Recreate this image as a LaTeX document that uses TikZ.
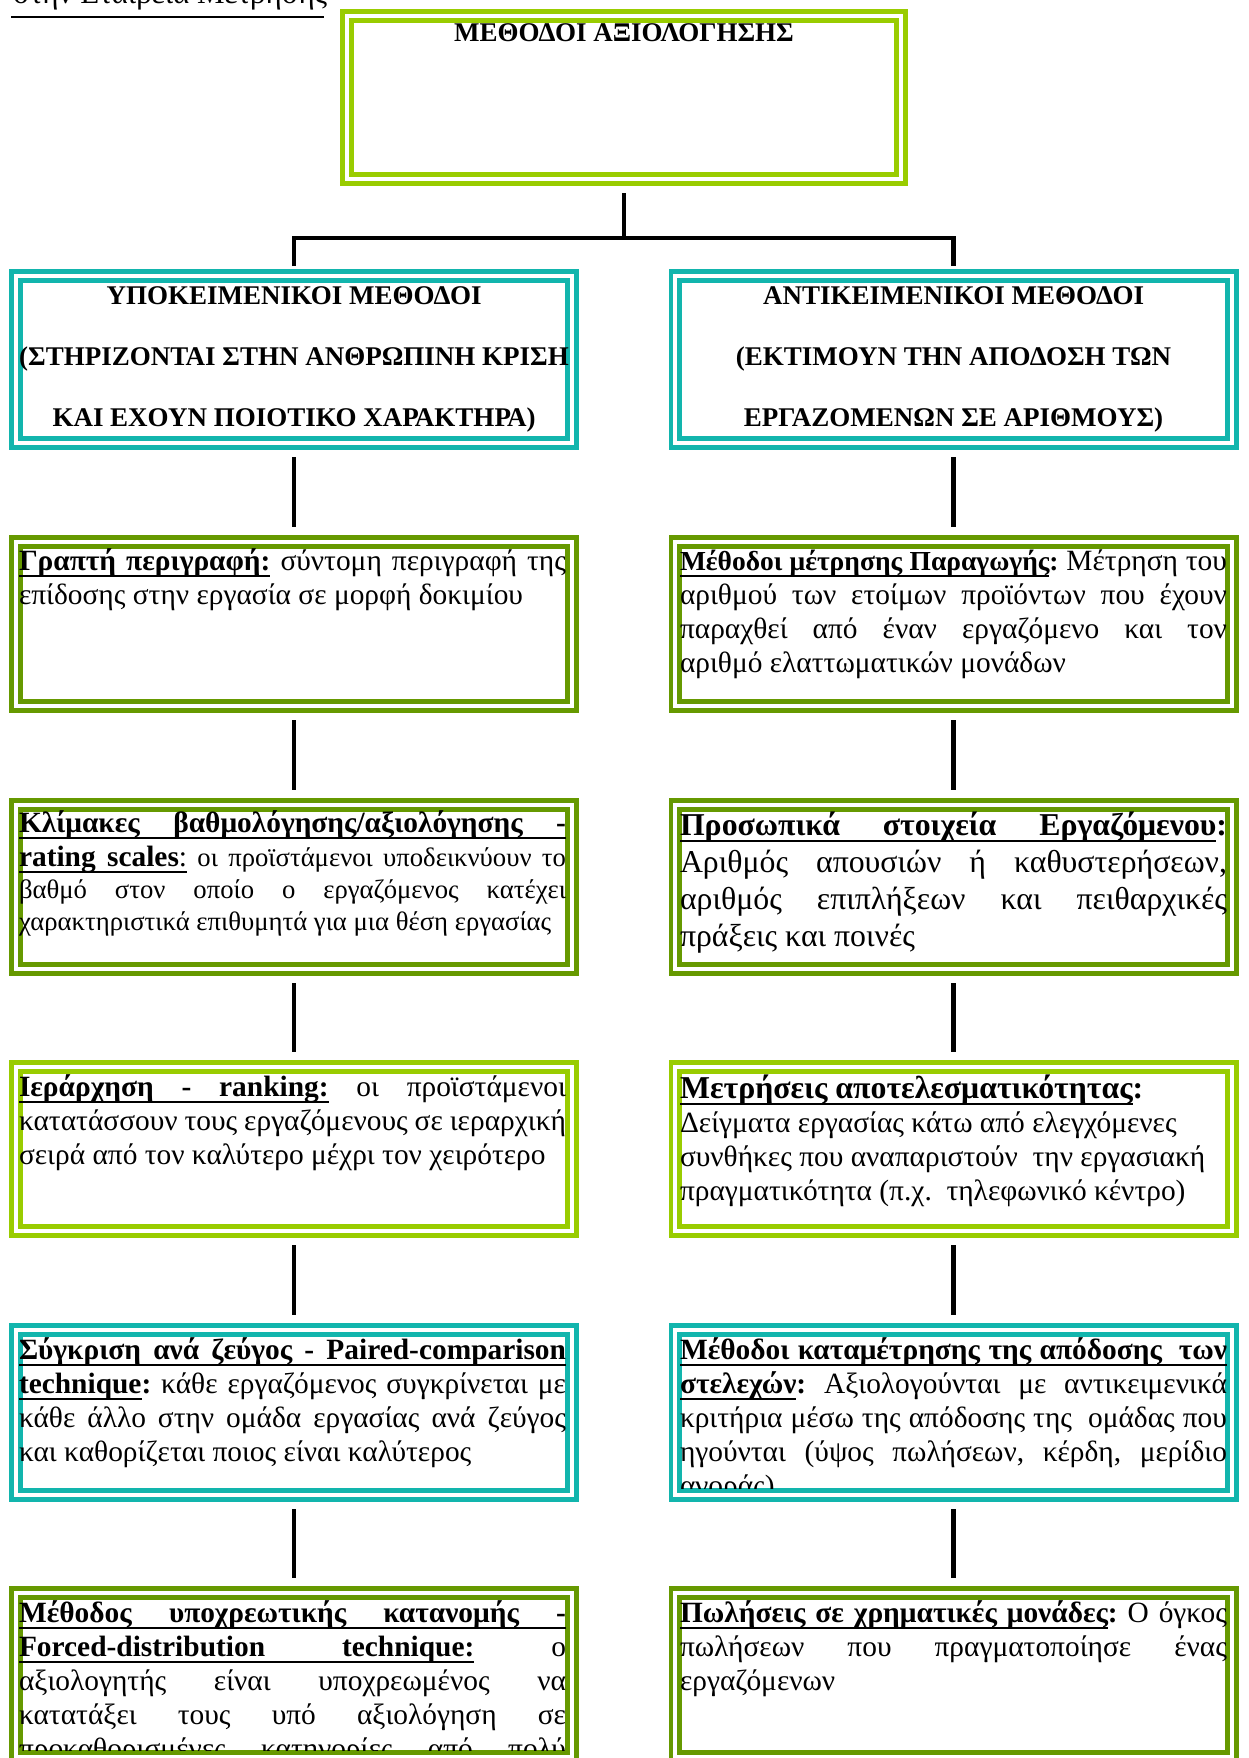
\documentclass[tikz,border=0pt]{standalone}
\usepackage{fontspec}
\setmainfont{Liberation Serif}
\frenchspacing

\definecolor{frameLime}{RGB}{153,204,0}
\definecolor{frameOlive}{RGB}{102,153,0}
\definecolor{frameTeal}{RGB}{18,181,173}

% underline helpers: a word with a fixed-depth rule, and an underlined stretchable space
\newlength\ulpos \setlength\ulpos{6.5pt}
\newlength\ulthk \setlength\ulthk{2pt}
\newcommand\uw[1]{\setbox0=\hbox{#1}\rlap{\rule[-\ulpos]{\wd0}{\ulthk}}\box0}
\newcommand\us{\leaders\hrule height\dimexpr\ulthk-\ulpos\relax depth\ulpos\hskip\fontdimen2\font plus\fontdimen3\font minus\fontdimen4\font\relax}
% natural (stretchable) word spaces inside nodes
\newcommand\natsp{\spaceskip=0pt\xspaceskip=0pt\relax}
% the font's own word space, kept rigid (for centred titles)
\newcommand\fixsp{\spaceskip=\fontdimen2\font\relax\xspaceskip=\spaceskip}
% a fully justified line
\newcommand\jl[1]{\makebox[\linewidth][s]{\natsp#1}}

\begin{document}
\begin{tikzpicture}[x=1pt,y=-1pt,
  frame/.style={rectangle, draw=#1, double=white, double distance=4pt,
    line width=4.8pt, inner sep=0pt, outer sep=6.8pt,
    minimum width=556.4pt, minimum height=164.4pt},
  conn/.style={line width=4.6pt, black},
  body/.style={anchor=base west, inner sep=0pt, outer sep=0pt,
    text width=547pt, align=left, font=\fontsize{29.4}{34}\selectfont},
  head/.style={anchor=base, inner sep=0pt, outer sep=0pt,
    text width=560pt, align=center, font=\fontsize{27}{61}\selectfont\bfseries}]

\useasboundingbox (0,0) rectangle (1248,1758);
\clip (0,0) rectangle (1248,1758);

% running text above the chart
\node[anchor=base west, inner sep=0pt, font=\fontsize{31}{36}\selectfont] (prev) at (13,4) {στην Εταιρεία Μετρήσης};
\draw[line width=2pt] (11,17) -- (324,17);

% frames
\node[frame=frameLime, minimum width=554.4pt, minimum height=163.4pt] (top) at (624,97.5) {};
\node[frame=frameTeal, minimum height=167.4pt] (h1) at (294,359.5) {};
\node[frame=frameTeal, minimum height=167.4pt] (h2) at (953.5,359.5) {};
\node[frame=frameOlive] (l2) at (294,624) {};
\node[frame=frameOlive] (r2) at (953.5,624) {};
\node[frame=frameOlive] (l3) at (294,887) {};
\node[frame=frameOlive] (r3) at (953.5,887) {};
\node[frame=frameLime] (l4) at (294,1149) {};
\node[frame=frameLime] (r4) at (953.5,1149) {};
\node[frame=frameTeal, minimum height=165.4pt] (l5) at (294,1412.5) {};
\node[frame=frameTeal, minimum height=165.4pt] (r5) at (953.5,1412.5) {};
\node[frame=frameOlive] (l6) at (294,1675) {};
\node[frame=frameOlive] (r6) at (953.5,1675) {};

% connectors
\coordinate (fork) at (624,238);
\draw[conn, shorten <=7pt] (top.south) -- (fork);
\draw[conn, shorten <=3pt, shorten >=3pt] (h1.north) -- (fork -| h1.north) -- (fork -| h2.north) -- (h2.north);
\foreach \a/\b in {h1/l2,l2/l3,l3/l4,l4/l5,l5/l6,h2/r2,r2/r3,r3/r4,r4/r5,r5/r6}
  \draw[conn, shorten <=7pt, shorten >=8pt] (\a.south) -- (\b.north);

% titles
\node[head] (ttop) at (624,42) {\fixsp ΜΕΘΟΔΟΙ ΑΞΙΟΛΟΓΗΣΗΣ};
\node[head] (th1) at (294,304) {\fixsp ΥΠΟΚΕΙΜΕΝΙΚΟΙ ΜΕΘΟΔΟΙ\\(ΣΤΗΡΙΖΟΝΤΑΙ ΣΤΗΝ ΑΝΘΡΩΠΙΝΗ ΚΡΙΣΗ\\ΚΑΙ ΕΧΟΥΝ ΠΟΙΟΤΙΚΟ ΧΑΡΑΚΤΗΡΑ)};
\node[head] (th2) at (953.5,304) {\fixsp ΑΝΤΙΚΕΙΜΕΝΙΚΟΙ ΜΕΘΟΔΟΙ\\(ΕΚΤΙΜΟΥΝ ΤΗΝ ΑΠΟΔΟΣΗ ΤΩΝ\\ΕΡΓΑΖΟΜΕΝΩΝ ΣΕ ΑΡΙΘΜΟΥΣ)};

% left column texts
\node[body] (tl2) at (19,570) {\natsp\jl{\textbf{\uw{Γραπτή}\us\uw{περιγραφή:}} σύντομη περιγραφή της}\\
επίδοσης στην εργασία σε μορφή δοκιμίου};

\node[body, font=\fontsize{26.7}{32}\selectfont] (tl3) at (19,832) {\natsp\jl{\fontsize{29.4}{34}\selectfont\textbf{\uw{Κλίμακες}\us\uw{βαθμολόγησης/αξιολόγησης}\us\uw{-}}}\\[2pt]
\jl{{\fontsize{29.4}{34}\selectfont\textbf{\uw{rating}\us\uw{scales}}\uw{:}} οι προϊστάμενοι υποδεικνύουν το}\\
\jl{βαθμό στον οποίο ο εργαζόμενος κατέχει}\\
χαρακτηριστικά επιθυμητά για μια θέση εργασίας};

\node[body] (tl4) at (19,1096) {\natsp\jl{\textbf{\uw{Ιεράρχηση}\us\uw{-}\us\uw{ranking:}} οι προϊστάμενοι}\\
\jl{κατατάσσουν τους εργαζόμενους σε ιεραρχική}\\
σειρά από τον καλύτερο μέχρι τον χειρότερο};

\node[body] (tl5) at (19,1359) {\natsp\jl{\textbf{\uw{Σύγκριση}\us\uw{ανά}\us\uw{ζεύγος}\us\uw{-}\us\uw{Paired-comparison}}}\\
\jl{\textbf{\uw{technique}:} κάθε εργαζόμενος συγκρίνεται με}\\
\jl{κάθε άλλο στην ομάδα εργασίας ανά ζεύγος}\\
και καθορίζεται ποιος είναι καλύτερος};

\begin{scope}
\clip (l6.north west) rectangle ([yshift=13.6pt]l6.south east);
\node[body] (tl6) at (19,1622) {\natsp\jl{\textbf{\uw{Μέθοδος}\us\uw{υποχρεωτικής}\us\uw{κατανομής}\us\uw{-}}}\\
\jl{\textbf{\uw{Forced-distribution}\us\uw{technique:}} ο}\\
\jl{αξιολογητής είναι υποχρεωμένος να}\\
\jl{κατατάξει τους υπό αξιολόγηση σε}\\
\jl{προκαθορισμένες κατηγορίες από πολύ}};
\end{scope}

% right column texts
\node[body] (tr2) at (680,570) {\natsp\jl{{\fontsize{27.5}{34}\selectfont\textbf{\uw{Μέθοδοι}\us\uw{μέτρησης}\us\uw{Παραγωγής}:}} Μέτρηση του}\\
\jl{αριθμού των ετοίμων προϊόντων που έχουν}\\
\jl{παραχθεί από έναν εργαζόμενο και τον}\\
αριθμό ελαττωματικών μονάδων};

\node[body, font=\fontsize{31.8}{37.3}\selectfont] (tr3) at (680,835) {\natsp\jl{\textbf{\uw{Προσωπικά}\us\uw{στοιχεία}\us\uw{Εργαζόμενου}:}}\\
\jl{Αριθμός απουσιών ή καθυστερήσεων,}\\
\jl{αριθμός επιπλήξεων και πειθαρχικές}\\
πράξεις και ποινές};

\node[body] (tr4) at (680,1098) {\natsp{\fontsize{31.8}{34}\selectfont\textbf{\uw{Μετρήσεις αποτελεσματικότητας}:}}\\
Δείγματα εργασίας κάτω από ελεγχόμενες\\
συνθήκες που αναπαριστούν\ \ την εργασιακή\\
πραγματικότητα (π.χ.\ \ τηλεφωνικό κέντρο)};

\begin{scope}
\clip (r5.north west) rectangle ([yshift=13.6pt]r5.south east);
\node[body] (tr5) at (680,1359) {\natsp\jl{\textbf{\uw{Μέθοδοι}\us\uw{καταμέτρησης}\us\uw{της}\us\uw{απόδοσης}\us\us\uw{των}}}\\
\jl{\textbf{\uw{στελεχών}:} Αξιολογούνται με αντικειμενικά}\\
\jl{κριτήρια μέσω της απόδοσης της\ \ ομάδας που}\\
\jl{ηγούνται (ύψος πωλήσεων, κέρδη, μερίδιο}\\
αγοράς)};
\end{scope}

\begin{scope}
\clip (r6.north west) rectangle ([yshift=13.6pt]r6.south east);
\node[body] (tr6) at (680,1622) {\natsp\jl{\textbf{\uw{Πωλήσεις}\us\uw{σε}\us\uw{χρηματικές}\us\uw{μονάδες}:} Ο όγκος}\\
\jl{πωλήσεων που πραγματοποίησε ένας}\\
εργαζόμενων};
\end{scope}

\end{tikzpicture}
\end{document}
